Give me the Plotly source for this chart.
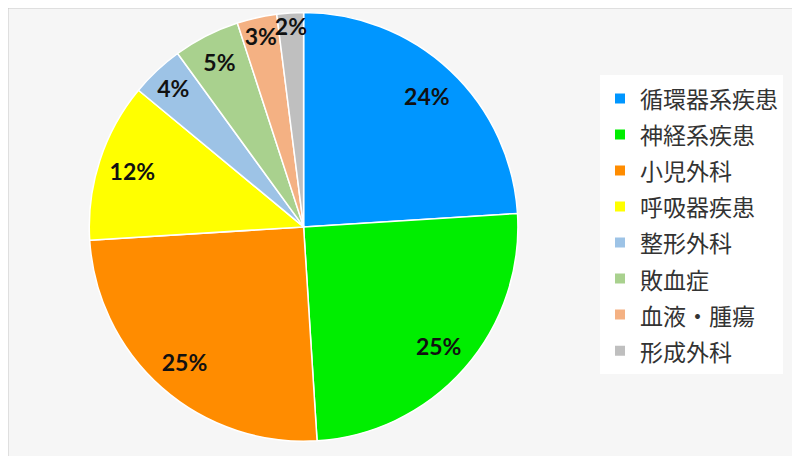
import plotly.graph_objects as go

categories = ["循環器系疾患", "神経系疾患", "小児外科", "呼吸器疾患", "整形外科", "敗血症", "血液・腫瘍", "形成外科"]
values = [24, 25, 25, 12, 4, 5, 3, 2]
colors = ["#0096FF", "#00EE00", "#FF8C00", "#FFFF00", "#9DC3E6", "#A9D18E", "#F4B183", "#BFBFBF"]

dom = dict(x=[0.084, 0.655], y=[0.05, 0.99])
legend_labels = [f"<span style='font-size:23px'>{c}</span>" for c in categories]

# Full pie (slices + legend)
fig = go.Figure(go.Pie(
    labels=legend_labels,
    values=values,
    sort=False,
    direction="clockwise",
    rotation=0,
    marker=dict(colors=colors, line=dict(color="#FFFFFF", width=1.5)),
    textinfo="none",
    domain=dom,
    hoverinfo="skip",
))
# Transparent ring overlay carrying the percentage labels near the outer edge
fig.add_trace(go.Pie(
    labels=legend_labels,
    values=values,
    sort=False,
    direction="clockwise",
    rotation=0,
    hole=0.68,
    marker=dict(colors=["rgba(0,0,0,0)"] * len(values), line=dict(width=0)),
    texttemplate="%{value}%",
    textposition="inside",
    insidetextorientation="horizontal",
    textfont=dict(family="Lato, sans-serif", size=23, color="#111111", weight="bold"),
    domain=dom,
    showlegend=False,
    hoverinfo="skip",
))

fig.update_layout(
    width=800, height=456,
    margin=dict(l=0, r=0, t=0, b=0),
    paper_bgcolor="#F6F6F6",
    uniformtext=dict(minsize=23, mode="show"),
    legend=dict(
        x=0.74, y=0.852, xanchor="left", yanchor="top",
        bgcolor="#FFFFFF",
        font=dict(family="Noto Sans CJK JP, sans-serif", size=25.4, color="#333333"),
        itemsizing="constant",
        tracegroupgap=0,
    ),
    shapes=[dict(type="rect", xref="paper", yref="paper", x0=0, y0=0, x1=1, y1=1,
                 line=dict(color="#C8C8C8", width=1))],
)

fig.write_html("out.html")
